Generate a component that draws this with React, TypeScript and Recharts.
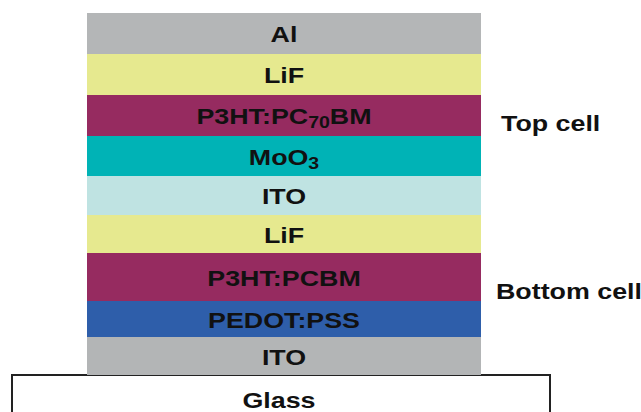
import { BarChart, Bar, XAxis, YAxis, ReferenceArea, ReferenceDot, LabelList } from 'recharts';

// layers from the substrate upward
const layerNames = ['ITO', 'PEDOT:PSS', 'P3HT:PCBM', 'LiF', 'ITO', 'MoO3', 'P3HT:PC70BM', 'LiF', 'Al'];
const layerThickness = [38, 36, 48, 38, 39, 40, 41, 41, 41];
const layerColors = ['#b3b5b6', '#2e5eaa', '#962b60', '#e6e98f', '#bfe3e2', '#00b3b6', '#962b60', '#e6e98f', '#b4b6b7'];

const cellNames = ['Top cell', 'Bottom cell'];
const cellLevels = [252, 84];

const substrate = 'Glass';

const row: Record<string, number> = { x: 284 };
layerThickness.forEach((t, i) => {
  row['l' + i] = t;
});
const data = [row];

const FONT = '"Liberation Sans", Arial, sans-serif';
const STRETCH = 1.22;
const SIZE = 22;

// renders names like MoO3 / P3HT:PC70BM with subscripts
function formula(name: string) {
  const parts = name.match(/[A-Za-z:]+|\d+/g) || [name];
  const isSub = (i: number) =>
    /^\d+$/.test(parts[i]) && i > 0 && !/:$/.test(parts[i - 1]) && !(parts[i] === '3' && parts[i - 1] === 'P');
  return parts.map((p, i) => {
    if (isSub(i)) {
      return (
        <tspan key={i} fontSize={16} dy={4}>
          {p}
        </tspan>
      );
    }
    return (
      <tspan key={i} dy={i > 0 && isSub(i - 1) ? -4 : 0}>
        {p}
      </tspan>
    );
  });
}

// x, y is the left/centre point of the text line (vertical centre of capitals)
function BoldText({ x, y, anchor, children }: { x: number; y: number; anchor: 'start' | 'middle'; children: any }) {
  return (
    <text
      transform={`translate(${x},${y + SIZE * 0.36}) scale(${STRETCH},1)`}
      x={0}
      y={0}
      textAnchor={anchor}
      fontFamily={FONT}
      fontWeight="bold"
      fontSize={SIZE}
      fill="#111"
    >
      {children}
    </text>
  );
}

function layerLabel(name: string) {
  return (props: any) => {
    const { x, y, width, height } = props;
    return (
      <BoldText x={Number(x) + Number(width) / 2} y={Number(y) + Number(height) / 2 + 1} anchor="middle">
        {formula(name)}
      </BoldText>
    );
  };
}

function sideLabel(text: string) {
  return (props: any) => {
    const { viewBox } = props;
    return (
      <BoldText x={viewBox.x} y={viewBox.y} anchor="start">
        {text}
      </BoldText>
    );
  };
}

export default function App() {
  return (
    <div style={{ position: 'absolute', left: 0, top: 0, background: '#fff' }}>
      <BarChart width={641} height={412} data={data} margin={{ top: 0, right: 0, bottom: 0, left: 0 }}>
        <XAxis dataKey="x" type="number" domain={[0, 641]} hide />
        <YAxis type="number" domain={[-37, 375]} hide allowDataOverflow />
        <ReferenceArea
          x1={12}
          x2={550}
          y1={-50}
          y2={0}
          ifOverflow="visible"
          fill="#fff"
          fillOpacity={1}
          stroke="#222"
          strokeWidth={2}
          label={(props: any) => {
            const { viewBox } = props;
            return (
              <BoldText x={viewBox.x + viewBox.width / 2 - 2} y={viewBox.y + 25} anchor="middle">
                {substrate}
              </BoldText>
            );
          }}
        />
        {layerNames.map((name, i) => (
          <Bar
            key={i}
            dataKey={'l' + i}
            stackId="stack"
            fill={layerColors[i]}
            barSize={394}
            isAnimationActive={false}
          >
            <LabelList dataKey={'l' + i} content={layerLabel(name)} />
          </Bar>
        ))}
        {cellNames.map((name, i) => (
          <ReferenceDot
            key={name}
            x={i === 0 ? 501 : 496}
            y={cellLevels[i]}
            r={0}
            fill="none"
            stroke="none"
            ifOverflow="visible"
            label={sideLabel(name)}
          />
        ))}
      </BarChart>
    </div>
  );
}
